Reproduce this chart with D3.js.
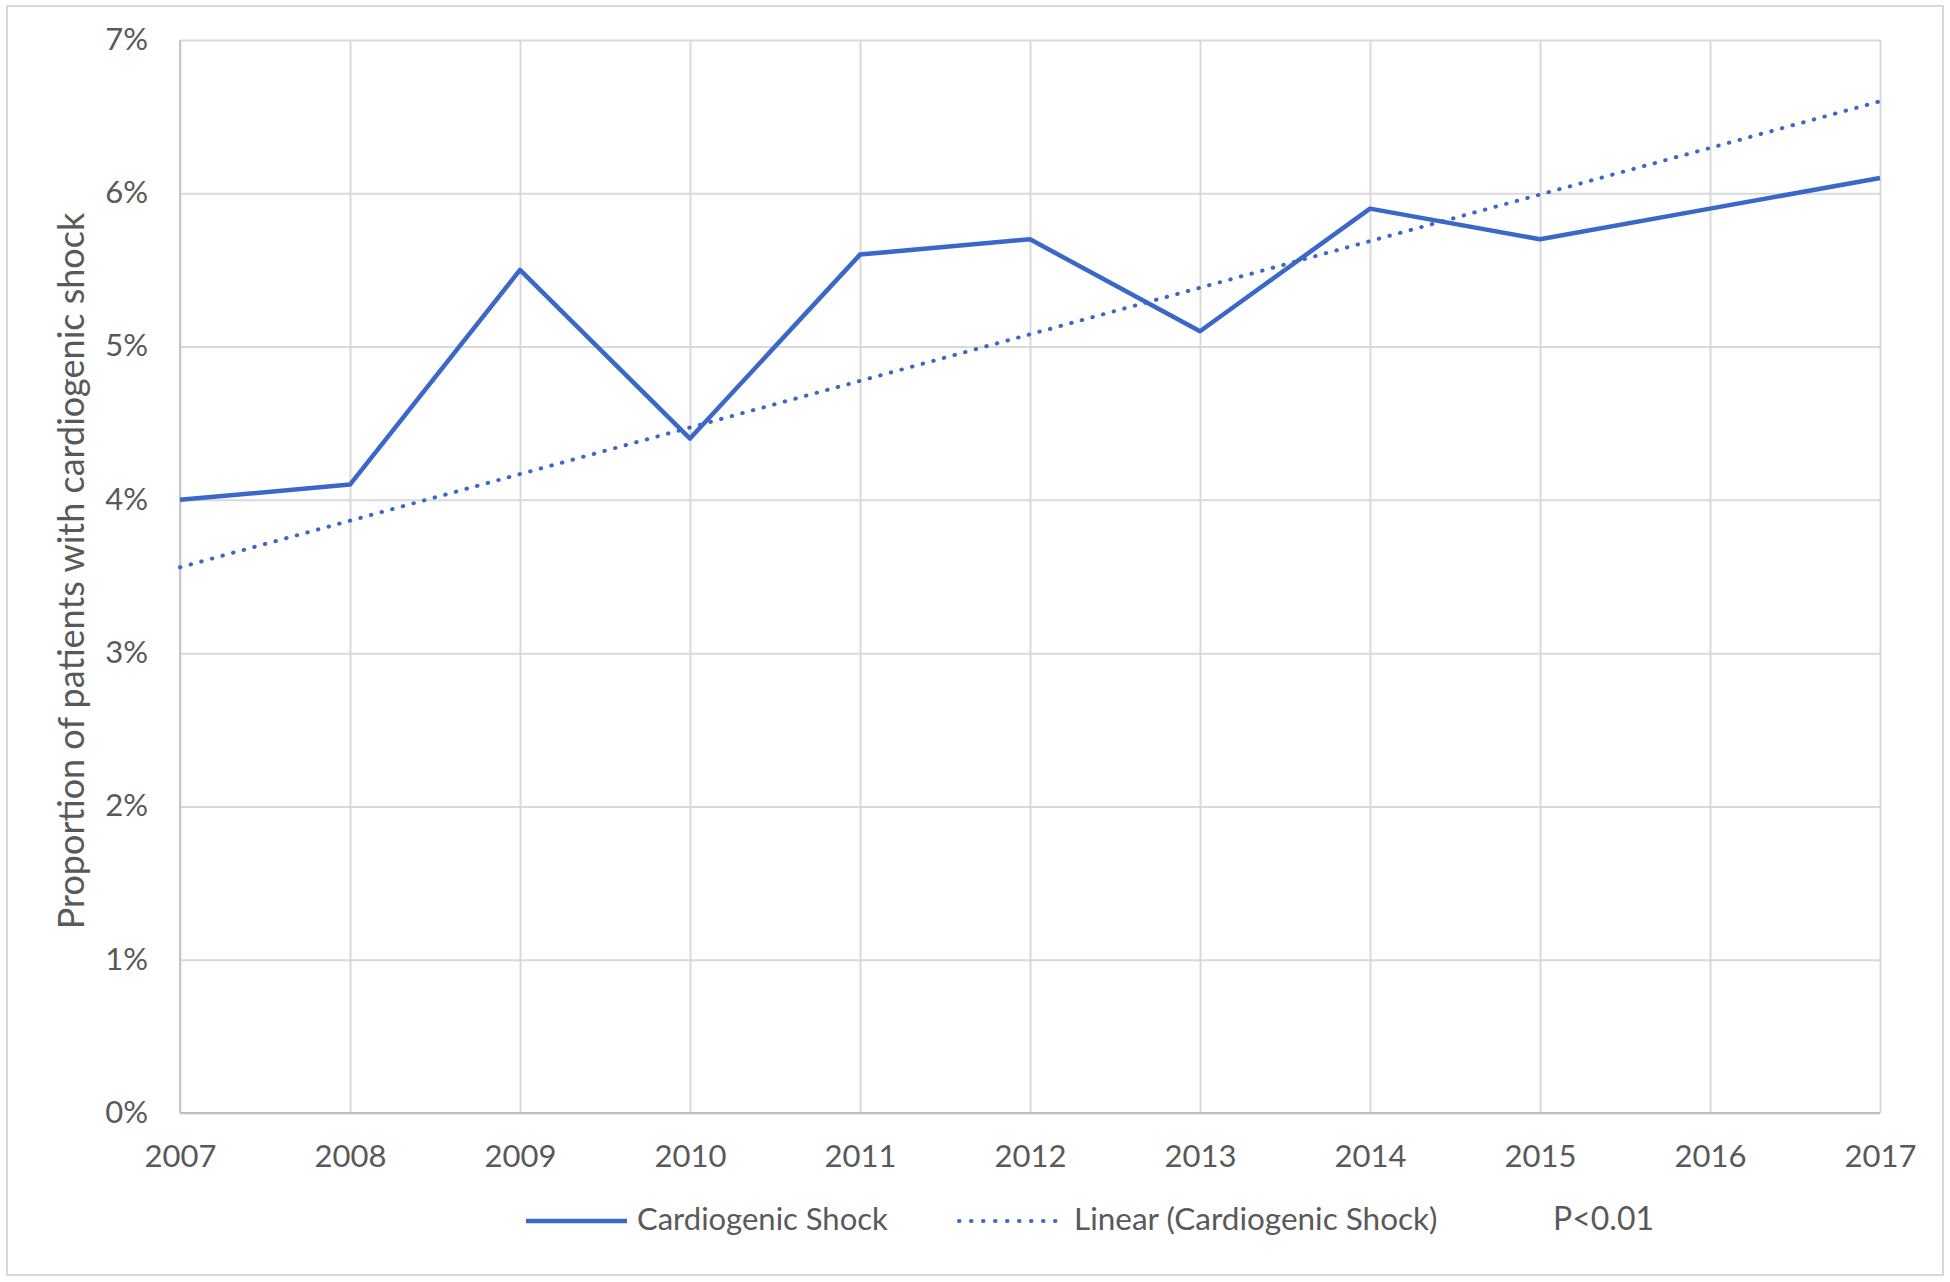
<!DOCTYPE html>
<html>
<head>
<meta charset="utf-8">
<script src="https://cdn.jsdelivr.net/npm/d3@7"></script>
<style>
  html, body { margin: 0; padding: 0; background: #fff; }
  svg text { font-family: Lato, "Open Sans", sans-serif; fill: #595959; }
</style>
</head>
<body>
<svg id="chart" width="1950" height="1282"></svg>
<script>
// years on the x axis
const years = [2007, 2008, 2009, 2010, 2011, 2012, 2013, 2014, 2015, 2016, 2017];
// proportion of patients with cardiogenic shock (%)
const shockPct = [4.0, 4.1, 5.5, 4.4, 5.6, 5.7, 5.1, 5.9, 5.7, 5.9, 6.1];
// linear trend line as drawn, endpoints
const trendYears = [2007, 2017];
const trendPct = [3.56, 6.60];
const yTicks = [0, 1, 2, 3, 4, 5, 6, 7];

const seriesName = 'Cardiogenic Shock';
const trendName = 'Linear (Cardiogenic Shock)';
const pText = 'P<0.01';
const yTitle = 'Proportion of patients with cardiogenic shock';

const blue = '#3b67c8';
const grid = '#d9d9d9';

const svg = d3.select('#chart');
const margin = { top: 40, right: 70, bottom: 169, left: 180 };
const width = 1950, height = 1282;
const innerW = width - margin.left - margin.right;
const innerH = height - margin.top - margin.bottom;

// chart area border
svg.append('rect')
    .attr('x', 7).attr('y', 6)
    .attr('width', 1936).attr('height', 1269)
    .attr('fill', 'none')
    .attr('stroke', grid)
    .attr('stroke-width', 2);

const g = svg.append('g')
    .attr('transform', `translate(${margin.left},${margin.top})`);

const x = d3.scaleLinear().domain([2007, 2017]).range([0, innerW]);
const y = d3.scaleLinear().domain([0, 7]).range([innerH, 0]);

// horizontal gridlines
g.append('g')
    .call(d3.axisLeft(y).tickValues(yTicks).tickSize(-innerW).tickFormat(d => d + '%').tickPadding(14))
    .call(a => a.select('.domain').remove())
    .call(a => a.selectAll('.tick line').attr('stroke', grid).attr('stroke-width', 2))
    .call(a => a.selectAll('.tick text').style('font-size', '31px').attr('fill', '#595959').attr('dy', '0.3em').attr('x', -32));

// vertical gridlines
g.append('g')
    .attr('transform', `translate(0,${innerH})`)
    .call(d3.axisBottom(x).tickValues(years).tickSize(-innerH).tickFormat(d3.format('d')).tickPadding(0))
    .call(a => a.select('.domain').remove())
    .call(a => a.selectAll('.tick line').attr('stroke', grid).attr('stroke-width', 2))
    .call(a => a.selectAll('.tick text').style('font-size', '31px').attr('fill', '#595959').attr('y', 54).attr('dy', 0));

// bottom and left axis lines
g.append('line')
    .attr('x1', 0).attr('x2', innerW)
    .attr('y1', innerH).attr('y2', innerH)
    .attr('stroke', '#bfbfbf').attr('stroke-width', 2);
g.append('line')
    .attr('x1', 0).attr('x2', 0)
    .attr('y1', 0).attr('y2', innerH)
    .attr('stroke', '#c8c8c8').attr('stroke-width', 2);

// trend line (dotted)
const trendData = trendYears.map((yr, i) => [yr, trendPct[i]]);
g.append('path')
    .datum(trendData)
    .attr('fill', 'none')
    .attr('stroke', blue)
    .attr('stroke-width', 4)
    .attr('stroke-linecap', 'round')
    .attr('stroke-dasharray', '0.5 10.5')
    .attr('d', d3.line().x(d => x(d[0])).y(d => y(d[1])));

// data line
const lineData = years.map((yr, i) => [yr, shockPct[i]]);
g.append('path')
    .datum(lineData)
    .attr('fill', 'none')
    .attr('stroke', blue)
    .attr('stroke-width', 4.5)
    .attr('stroke-linejoin', 'round')
    .attr('d', d3.line().x(d => x(d[0])).y(d => y(d[1])));

// y axis title
svg.append('text')
    .attr('transform', 'translate(84,571) rotate(-90)')
    .attr('text-anchor', 'middle')
    .style('font-size', '36px')
    .text(yTitle);

// legend
const legY = 1221;
const leg = svg.append('g');
leg.append('line')
    .attr('x1', 526).attr('x2', 627)
    .attr('y1', legY).attr('y2', legY)
    .attr('stroke', blue).attr('stroke-width', 4.5);
leg.append('text')
    .attr('x', 637).attr('y', 1230)
    .style('font-size', '31px')
    .text(seriesName);
leg.append('line')
    .attr('x1', 959).attr('x2', 1056)
    .attr('y1', legY).attr('y2', legY)
    .attr('stroke', blue).attr('stroke-width', 4)
    .attr('stroke-linecap', 'round')
    .attr('stroke-dasharray', '0.5 11.5');
leg.append('text')
    .attr('x', 1074).attr('y', 1230)
    .style('font-size', '31.5px')
    .text(trendName);
leg.append('text')
    .attr('x', 1553).attr('y', 1230)
    .style('font-size', '32px')
    .text(pText);
</script>
</body>
</html>
